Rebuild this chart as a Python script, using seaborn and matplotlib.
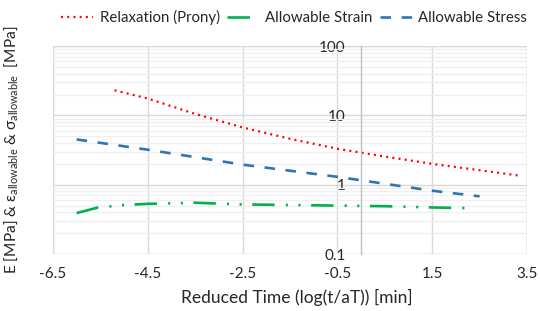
import numpy as np
import pandas as pd
import matplotlib
matplotlib.use("Agg")
import matplotlib.pyplot as plt
from matplotlib.patches import Rectangle
from matplotlib.ticker import FixedLocator, LogLocator, NullFormatter
import seaborn as sns

# --- DATA ---
relax_x = [-5.2, -4.5, -3.5, -2.5, -1.5, -0.5, 0.5, 1.5, 2.5, 3.35]
relax_y = [23.0, 17.5, 10.5, 6.7, 4.6, 3.3, 2.55, 2.0, 1.62, 1.35]

strain_x = [-6.0, -5.55, -5.0, -4.5, -3.5, -2.5, -1.5, -0.5, 0.5, 1.5, 2.3]
strain_y = [0.39, 0.47, 0.51, 0.53, 0.55, 0.52, 0.51, 0.50, 0.49, 0.47, 0.46]

stress_x = [-6.0, -4.5, -2.5, -0.5, 1.5, 2.5]
stress_y = [4.5, 3.2, 1.95, 1.3, 0.82, 0.68]

x_ticks = [-6.5, -4.5, -2.5, -0.5, 1.5, 3.5]
y_ticks = [0.1, 1, 10, 100]
y_tick_labels = ["0.1", "1", "10", "100"]

RED, GREEN, BLUE = "#FF0000", "#00B050", "#2E75B6"
TXT = "#262626"

sns.set_theme(style="white")
plt.rcParams["font.family"] = ["Lato", "DejaVu Sans"]
plt.rcParams["mathtext.fontset"] = "custom"
plt.rcParams["mathtext.rm"] = "Lato"
plt.rcParams["mathtext.it"] = "Lato:italic"
plt.rcParams["font.size"] = 11

fig = plt.figure(figsize=(5.4, 3.11), dpi=100)
ax = fig.add_axes([0.098, 0.183, 0.878, 0.669])

relax = pd.DataFrame({"x": relax_x, "y": relax_y})
strain = pd.DataFrame({"x": strain_x, "y": strain_y})
stress = pd.DataFrame({"x": stress_x, "y": stress_y})

sns.lineplot(data=relax, x="x", y="y", ax=ax, color=RED, lw=1.6,
             linestyle=(0, (0.9, 1.9)), label="Relaxation (Prony)")
sns.lineplot(data=strain, x="x", y="y", ax=ax, color=GREEN, lw=1.9,
             linestyle=(0, (8.5, 4.2, 0.8, 4.0, 0.8, 4.0)), label="Allowable Strain")
sns.lineplot(data=stress, x="x", y="y", ax=ax, color=BLUE, lw=1.9,
             linestyle=(0, (4.0, 4.0)), label="Allowable Stress")

ax.set_yscale("log")
ax.set_xlim(x_ticks[0], x_ticks[-1])
ax.set_ylim(y_ticks[0], y_ticks[-1])

# gridlines
ax.xaxis.set_major_locator(FixedLocator(x_ticks))
ax.set_xticklabels([f"{t:g}" for t in x_ticks])
ax.yaxis.set_major_locator(FixedLocator(y_ticks))
ax.yaxis.set_minor_locator(LogLocator(base=10, subs=np.arange(2, 10)))
ax.yaxis.set_minor_formatter(NullFormatter())
ax.grid(True, which="major", color="#D9D9D9", lw=1.0)
ax.grid(True, which="minor", axis="y", color="#EFEFEF", lw=0.9)
ax.set_axisbelow(True)

# vertical axis crosses at x = 0
for s in ["top", "right", "bottom"]:
    ax.spines[s].set_visible(False)
ax.spines["left"].set_position(("data", 0))
ax.spines["left"].set_color("#BFBFBF")
ax.spines["left"].set_linewidth(1.0)
ax.add_patch(Rectangle((0, 0), 1, 1, transform=ax.transAxes, fill=False,
                       edgecolor="#D9D9D9", lw=1.0, zorder=0.5))
ax.set_yticklabels(y_tick_labels)
ax.tick_params(axis="both", which="both", length=0, labelsize=11, colors=TXT)
ax.tick_params(axis="y", pad=11)
ax.tick_params(axis="x", pad=9)

ax.set_xlabel("Reduced Time (log(t/aT)) [min]", fontsize=12.5, color=TXT)
ax.xaxis.set_label_coords(0.515, -0.17)
ax.set_ylabel(r"E [MPa] & ε$_{\mathrm{allowable}}$ & σ$_{\mathrm{allowable}}$  [MPa]",
              fontsize=11.2, color=TXT)
ax.yaxis.set_label_coords(-0.07, 0.5)

ax.legend(loc="upper center", bbox_to_anchor=(0.545, 1.01), bbox_transform=fig.transFigure,
          ncol=3, frameon=False, fontsize=10.8, handlelength=2.1, handletextpad=0.45,
          columnspacing=0.5, labelcolor=TXT)

fig.savefig("out.png", dpi=100)
